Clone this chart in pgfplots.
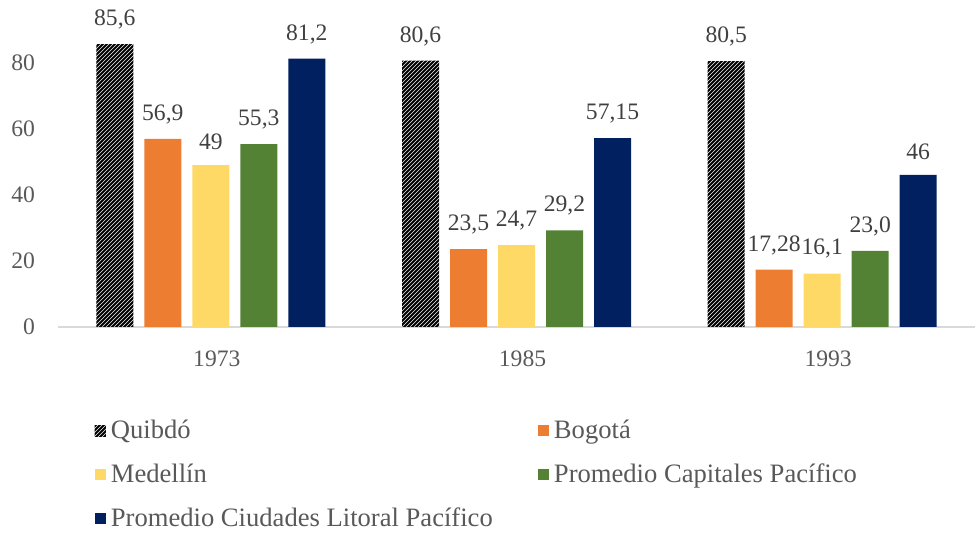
\documentclass[border=0pt]{standalone}
\usepackage{fontspec}
\setmainfont{Liberation Serif}
\usepackage{pgfplots}
\pgfplotsset{compat=1.18}
\usepackage{pgfplotstable}
\usetikzlibrary{patterns.meta}

\definecolor{cOrange}{HTML}{ED7D31}
\definecolor{cYellow}{HTML}{FFD966}
\definecolor{cGreen}{HTML}{548235}
\definecolor{cNavy}{HTML}{002060}
\definecolor{txt}{HTML}{595959}
\definecolor{lbl}{HTML}{404040}
\definecolor{axline}{HTML}{D9D9D9}

\tikzdeclarepattern{
  name=hatch, type=uncolored,
  bounding box={(0,0) and (2.2pt,2.2pt)},
  tile size={(2.2pt,2.2pt)},
  code={
    \pgfsetlinewidth{1.05pt}
    \pgfpathmoveto{\pgfpoint{-0.5pt}{-0.5pt}}\pgfpathlineto{\pgfpoint{2.7pt}{2.7pt}}
    \pgfpathmoveto{\pgfpoint{-1.6pt}{0.6pt}}\pgfpathlineto{\pgfpoint{0.6pt}{2.8pt}}
    \pgfpathmoveto{\pgfpoint{0.6pt}{-1.6pt}}\pgfpathlineto{\pgfpoint{2.8pt}{0.6pt}}
    \pgfusepath{stroke}
  }
}

% x  y  label
\pgfplotstableread{
x y lab
0 85.6 85,6
1 80.6 80,6
2 80.5 80,5
}\quibdo
\pgfplotstableread{
x y lab
0 56.9 56,9
1 23.5 23,5
2 17.28 17,28
}\bogota
\pgfplotstableread{
x y lab
0 49 49
1 24.7 24,7
2 16.1 16,1
}\medellin
\pgfplotstableread{
x y lab
0 55.3 55,3
1 29.2 29,2
2 23.0 23,0
}\capitales
\pgfplotstableread{
x y lab
0 81.2 81,2
1 57.15 57,15
2 46 46
}\litoral

\begin{document}
\begin{tikzpicture}[font=\fontsize{11.8}{14}\selectfont]
\begin{axis}[
  scale only axis,
  width=458.5pt, height=163.4pt,
  ybar=5.5pt, bar width=18.5pt,
  xmin=-0.5, xmax=2.5,
  ymin=0, ymax=99,
  xtick=data, xticklabels={1973,1985,1993},
  ytick={0,20,40,60,80},
  /pgf/number format/assume math mode=true,
  tick style={draw=none},
  axis x line*=bottom, axis y line*=left,
  x axis line style={draw=axline, line width=0.8pt},
  y axis line style={draw=none},
  ticklabel style={text=txt},
  yticklabel style={xshift=-8pt},
  xticklabel style={yshift=-4pt, xshift=3pt},
  clip=false,
  nodes near coords,
  point meta=explicit symbolic,
  every node near coord/.append style={text=lbl, yshift=4pt},
  legend image code/.code={\path[#1,draw=none] (0pt,-2.8pt) rectangle (5.6pt,2.8pt);},
  legend columns=2,
  legend cell align=left,
  legend style={draw=none, at={(0.033,-0.26)}, anchor=north west,
    text=txt, row sep=7pt, font=\fontsize{13.3}{16}\selectfont,
    /tikz/every even column/.append style={column sep=20pt},
    nodes={inner xsep=2.5pt}},
]
\addplot[draw=none, pattern={hatch}, pattern color=black] table[x=x,y=y,meta=lab] {\quibdo};
\addplot[draw=none, fill=cOrange] table[x=x,y=y,meta=lab] {\bogota};
\addplot[draw=none, fill=cYellow] table[x=x,y=y,meta=lab] {\medellin};
\addplot[draw=none, fill=cGreen] table[x=x,y=y,meta=lab] {\capitales};
\addplot[draw=none, fill=cNavy] table[x=x,y=y,meta=lab] {\litoral};
\legend{Quibdó, Bogotá, Medellín, Promedio Capitales Pacífico, Promedio Ciudades Litoral Pacífico}
\path ([xshift=-29pt,yshift=-103.5pt]rel axis cs:0,0) rectangle ([xshift=1pt]rel axis cs:1,1);
\end{axis}
\end{tikzpicture}
\end{document}
